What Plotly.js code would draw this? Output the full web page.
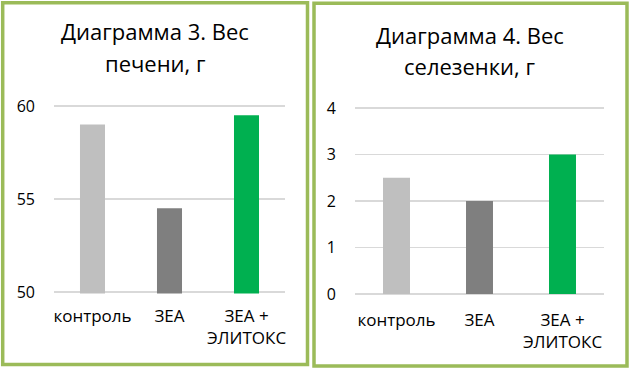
<!DOCTYPE html>
<html>
<head>
<meta charset="utf-8">
<script src="https://cdn.plot.ly/plotly-3.0.1.min.js"></script>
<style>html,body{margin:0;padding:0;background:#fff;}#chart{width:630px;height:370px;}</style>
</head>
<body>
<div id="chart"></div>
<script>
const categories = ["контроль", "ЗЕА", "ЗЕА +<br>ЭЛИТОКС"];
const liverWeight = [59, 54.5, 59.5];
const spleenWeight = [2.5, 2, 3];
const barColors = ["#BFBFBF", "#7F7F7F", "#00B050"];
const liverTicks = [50, 55, 60];
const spleenTicks = [0, 1, 2, 3, 4];
const title1 = ["Диаграмма 3. Вес", "печени, г"];
const title2 = ["Диаграмма 4. Вес", "селезенки, г"];

const W = 630, H = 370;
const px = v => v / W;
const py = v => (H - v) / H;
const FONT = "Open Sans";

const traces = [
  {type: "bar", x: categories, y: liverWeight, marker: {color: barColors}, xaxis: "x", yaxis: "y", hoverinfo: "none"},
  {type: "bar", x: categories, y: spleenWeight, base: 0, marker: {color: barColors}, xaxis: "x2", yaxis: "y2", hoverinfo: "none"}
];

const xCommon = {type: "category", showgrid: false, zeroline: false, showline: false, ticks: "", tickfont: {family: FONT, size: 17, color: "#000"}, fixedrange: true};
const yCommon = {showgrid: true, gridcolor: "#D9D9D9", gridwidth: 1.5, zeroline: false, showline: false, ticks: "", tickfont: {family: FONT, size: 16, color: "#000"}, fixedrange: true};

// left: 60 -> 106px, 50 -> 292px ; right: 4 -> 108px, 0 -> 294px (ranges padded by ~1.5px)
const lPad = 1.5 * 10 / 186, rPad = 1.5 * 4 / 186;

const layout = {
  width: W, height: H,
  margin: {l: 0, r: 0, t: 0, b: 0},
  paper_bgcolor: "#fff", plot_bgcolor: "#fff",
  showlegend: false,
  bargap: 0.675,
  xaxis: Object.assign({}, xCommon, {domain: [px(54), px(285)], anchor: "y", ticklabelstandoff: 10}),
  yaxis: Object.assign({}, yCommon, {domain: [py(293.5), py(104.5)], range: [50 - lPad, 60 + lPad], tickvals: liverTicks, anchor: "x", ticklabelstandoff: 18}),
  xaxis2: Object.assign({}, xCommon, {domain: [px(355), px(604)], anchor: "y2", ticklabelstandoff: 12}),
  yaxis2: Object.assign({}, yCommon, {domain: [py(295.5), py(106.5)], range: [0 - rPad, 4 + rPad], tickvals: spleenTicks, anchor: "x2", ticklabelstandoff: 18}),
  shapes: [
    {type: "rect", xref: "paper", yref: "paper", x0: px(2.7), x1: px(307.5), y0: py(364.5), y1: py(2.7), line: {color: "#9BBB59", width: 3.5}},
    {type: "rect", xref: "paper", yref: "paper", x0: px(314), x1: px(627), y0: py(366), y1: py(3.3), line: {color: "#9BBB59", width: 3.5}}
  ],
  annotations: [
    {xref: "paper", yref: "paper", x: px(155), y: py(31), text: title1[0], showarrow: false, xanchor: "center", yanchor: "middle", font: {family: FONT, size: 22, color: "#000"}},
    {xref: "paper", yref: "paper", x: px(155), y: py(63), text: title1[1], showarrow: false, xanchor: "center", yanchor: "middle", font: {family: FONT, size: 22, color: "#000"}},
    {xref: "paper", yref: "paper", x: px(470), y: py(35), text: title2[0], showarrow: false, xanchor: "center", yanchor: "middle", font: {family: FONT, size: 22, color: "#000"}},
    {xref: "paper", yref: "paper", x: px(470), y: py(66), text: title2[1], showarrow: false, xanchor: "center", yanchor: "middle", font: {family: FONT, size: 22, color: "#000"}}
  ]
};

Plotly.newPlot("chart", traces, layout, {displayModeBar: false, staticPlot: true});
</script>
</body>
</html>
